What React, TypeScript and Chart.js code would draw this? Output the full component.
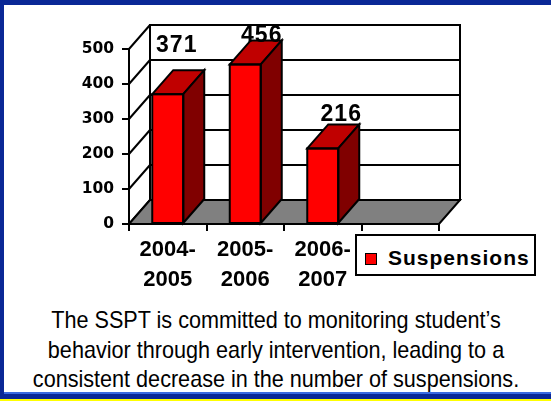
import React, { useEffect, useRef } from 'react';
import { Chart, registerables } from 'chart.js';

Chart.register(...registerables);

// ---- data ----
const categories: (string | string[])[] = [['2004-', '2005'], ['2005-', '2006'], ['2006-', '2007'], ''];
const suspensions: (number | null)[] = [371, 456, 216, null];
const seriesName = 'Suspensions';
const yMin = 0;
const yMax = 500;
const yStep = 100;
const captionLines = [
  'The SSPT is committed to monitoring student\u2019s',
  'behavior through early intervention, leading to a',
  'consistent decrease in the number of suspensions.',
];

// ---- styling ----
const DX = 21;
const DY = -24;
const labelNudgeX = [-1.5, 6, 8, 0];
const labelNudgeY = [24, 5, 10, 0];
const FONT = "'Liberation Sans', Arial, Helvetica, sans-serif";
const TICK_FONT = "'DejaVu Sans', Verdana, sans-serif";
const BLUE = '#0A2896';
const RED = '#FF0000';
const RED_TOP = '#C00000';
const RED_SIDE = '#800000';
const FLOOR = '#808080';

const threeD = {
  id: 'threeD',
  beforeDraw(chart: any) {
    const ctx = chart.ctx as CanvasRenderingContext2D;
    const { left: L, right: R } = chart.chartArea;
    const ys = chart.scales.y;
    const T = ys.getPixelForValue(yMax);
    const B = ys.getPixelForValue(yMin);
    ctx.save();
    ctx.lineWidth = 2;
    ctx.strokeStyle = '#000';
    // back wall
    ctx.fillStyle = '#fff';
    ctx.fillRect(L + DX, T + DY, R - L, B - T);
    ctx.beginPath();
    ys.ticks.forEach((t: any) => {
      const py = ys.getPixelForValue(t.value) + DY;
      ctx.moveTo(L + DX, py);
      ctx.lineTo(R + DX, py);
    });
    ctx.stroke();
    ctx.strokeRect(L + DX, T + DY, R - L, B - T);
    // left wall diagonals
    ctx.beginPath();
    ys.ticks.forEach((t: any) => {
      const py = ys.getPixelForValue(t.value);
      ctx.moveTo(L, py);
      ctx.lineTo(L + DX, py + DY);
    });
    ctx.stroke();
    // floor
    ctx.beginPath();
    ctx.moveTo(L, B);
    ctx.lineTo(R, B);
    ctx.lineTo(R + DX, B + DY);
    ctx.lineTo(L + DX, B + DY);
    ctx.closePath();
    ctx.fillStyle = FLOOR;
    ctx.fill();
    ctx.stroke();
    ctx.restore();
  },
  afterDatasetsDraw(chart: any) {
    const ctx = chart.ctx as CanvasRenderingContext2D;
    const meta = chart.getDatasetMeta(0);
    const values = chart.data.datasets[0].data;
    ctx.save();
    ctx.lineWidth = 2;
    ctx.strokeStyle = '#000';
    meta.data.forEach((el: any, i: number) => {
      const v = values[i];
      if (v === null || v === undefined) return;
      const { x, y, base, width } = el.getProps(['x', 'y', 'base', 'width'], true);
      const l = x - width / 2;
      const r = x + width / 2;
      ctx.beginPath();
      ctx.moveTo(l, y);
      ctx.lineTo(l + DX, y + DY);
      ctx.lineTo(r + DX, y + DY);
      ctx.lineTo(r, y);
      ctx.closePath();
      ctx.fillStyle = RED_TOP;
      ctx.fill();
      ctx.stroke();
      ctx.beginPath();
      ctx.moveTo(r, y);
      ctx.lineTo(r + DX, y + DY);
      ctx.lineTo(r + DX, base + DY);
      ctx.lineTo(r, base);
      ctx.closePath();
      ctx.fillStyle = RED_SIDE;
      ctx.fill();
      ctx.stroke();
      ctx.strokeRect(l, y, width, base - y);
      ctx.fillStyle = '#000';
      ctx.font = `bold 23px ${FONT}`;
      (ctx as any).letterSpacing = '1px';
      ctx.textAlign = 'center';
      ctx.textBaseline = 'middle';
      ctx.fillText(String(v), x + DX / 2 + labelNudgeX[i], y + DY - labelNudgeY[i]);
      (ctx as any).letterSpacing = '0px';
    });
    ctx.restore();
  },
};

function ChartCanvas() {
  const ref = useRef<HTMLCanvasElement | null>(null);
  useEffect(() => {
    if (!ref.current) return;
    const chart = new Chart(ref.current, {
      type: 'bar',
      data: {
        labels: categories,
        datasets: [
          {
            label: seriesName,
            data: suspensions,
            backgroundColor: RED,
            borderWidth: 0,
            barPercentage: 0.4,
            categoryPercentage: 1,
          },
        ],
      },
      options: {
        animation: false,
        responsive: false,
        devicePixelRatio: 1,
        layout: { padding: { top: 49, left: 0, right: 112, bottom: 0 } },
        plugins: { legend: { display: false }, tooltip: { enabled: false } },
        scales: {
          x: {
            grid: { drawOnChartArea: false, drawTicks: true, tickLength: 7, color: '#000', lineWidth: 2 },
            border: { display: true, color: '#000', width: 2 },
            ticks: {
              color: '#000',
              padding: 4,
              maxRotation: 0,
              autoSkip: false,
              font: { family: FONT, size: 22, weight: 'bold', lineHeight: 1.364 },
            },
            afterFit(scale: any) {
              scale.height = 76;
            },
          },
          y: {
            min: yMin,
            max: yMax,
            grid: { drawOnChartArea: false, drawTicks: true, tickLength: 7, color: '#000', lineWidth: 2 },
            border: { display: true, color: '#000', width: 2 },
            ticks: {
              stepSize: yStep,
              color: '#000',
              padding: 8,
              font: { family: TICK_FONT, size: 15.5, weight: 'bold' },
            },
            afterFit(scale: any) {
              scale.width = 129;
            },
          },
        },
      } as any,
      plugins: [threeD],
    });
    return () => chart.destroy();
  }, []);
  return (
    <canvas
      ref={ref}
      width={551}
      height={300}
      style={{ position: 'absolute', left: 0, top: 0, width: 551, height: 300, display: 'block' }}
    />
  );
}

export default function App() {
  return (
    <div
      style={{
        position: 'fixed',
        left: 0,
        top: 0,
        width: 551,
        height: 401,
        background: '#fff',
        overflow: 'hidden',
      }}
    >
      <ChartCanvas />
      {/* legend */}
      <div
        style={{
          position: 'absolute',
          left: 355,
          top: 234,
          width: 181,
          height: 42,
          boxSizing: 'border-box',
          border: '2px solid #000',
          background: '#fff',
        }}
      >
        <div
          style={{
            position: 'absolute',
            left: 8,
            top: 17,
            width: 12,
            height: 12,
            boxSizing: 'border-box',
            border: '1px solid #000',
            background: RED,
          }}
        />
        <div
          style={{
            position: 'absolute',
            left: 31,
            top: 10,
            fontFamily: FONT,
            fontWeight: 'bold',
            fontSize: 21,
            lineHeight: '24px',
            letterSpacing: '1px',
            color: '#000',
            whiteSpace: 'nowrap',
          }}
        >
          {seriesName}
        </div>
      </div>
      {/* caption */}
      <div
        style={{
          position: 'absolute',
          left: 0,
          top: 305,
          width: 552,
          textAlign: 'center',
          fontFamily: FONT,
          fontSize: 24,
          lineHeight: '29.5px',
          color: '#000',
          transform: 'scaleX(0.9)',
          transformOrigin: '276px 0',
          whiteSpace: 'nowrap',
        }}
      >
        {captionLines.map((t, i) => (
          <div key={i}>{t}</div>
        ))}
      </div>
      {/* frame */}
      <div style={{ position: 'absolute', left: 0, top: 0, width: 551, height: 5, background: BLUE }} />
      <div style={{ position: 'absolute', left: 0, top: 0, width: 4, height: 401, background: BLUE }} />
      <div style={{ position: 'absolute', left: 0, top: 392, width: 551, height: 7, background: BLUE }} />
      <div style={{ position: 'absolute', left: 4, top: 392, width: 547, height: 2, background: '#3A6AE0' }} />
      <div style={{ position: 'absolute', left: 0, top: 399, width: 551, height: 2, background: '#FFFF00' }} />
    </div>
  );
}
